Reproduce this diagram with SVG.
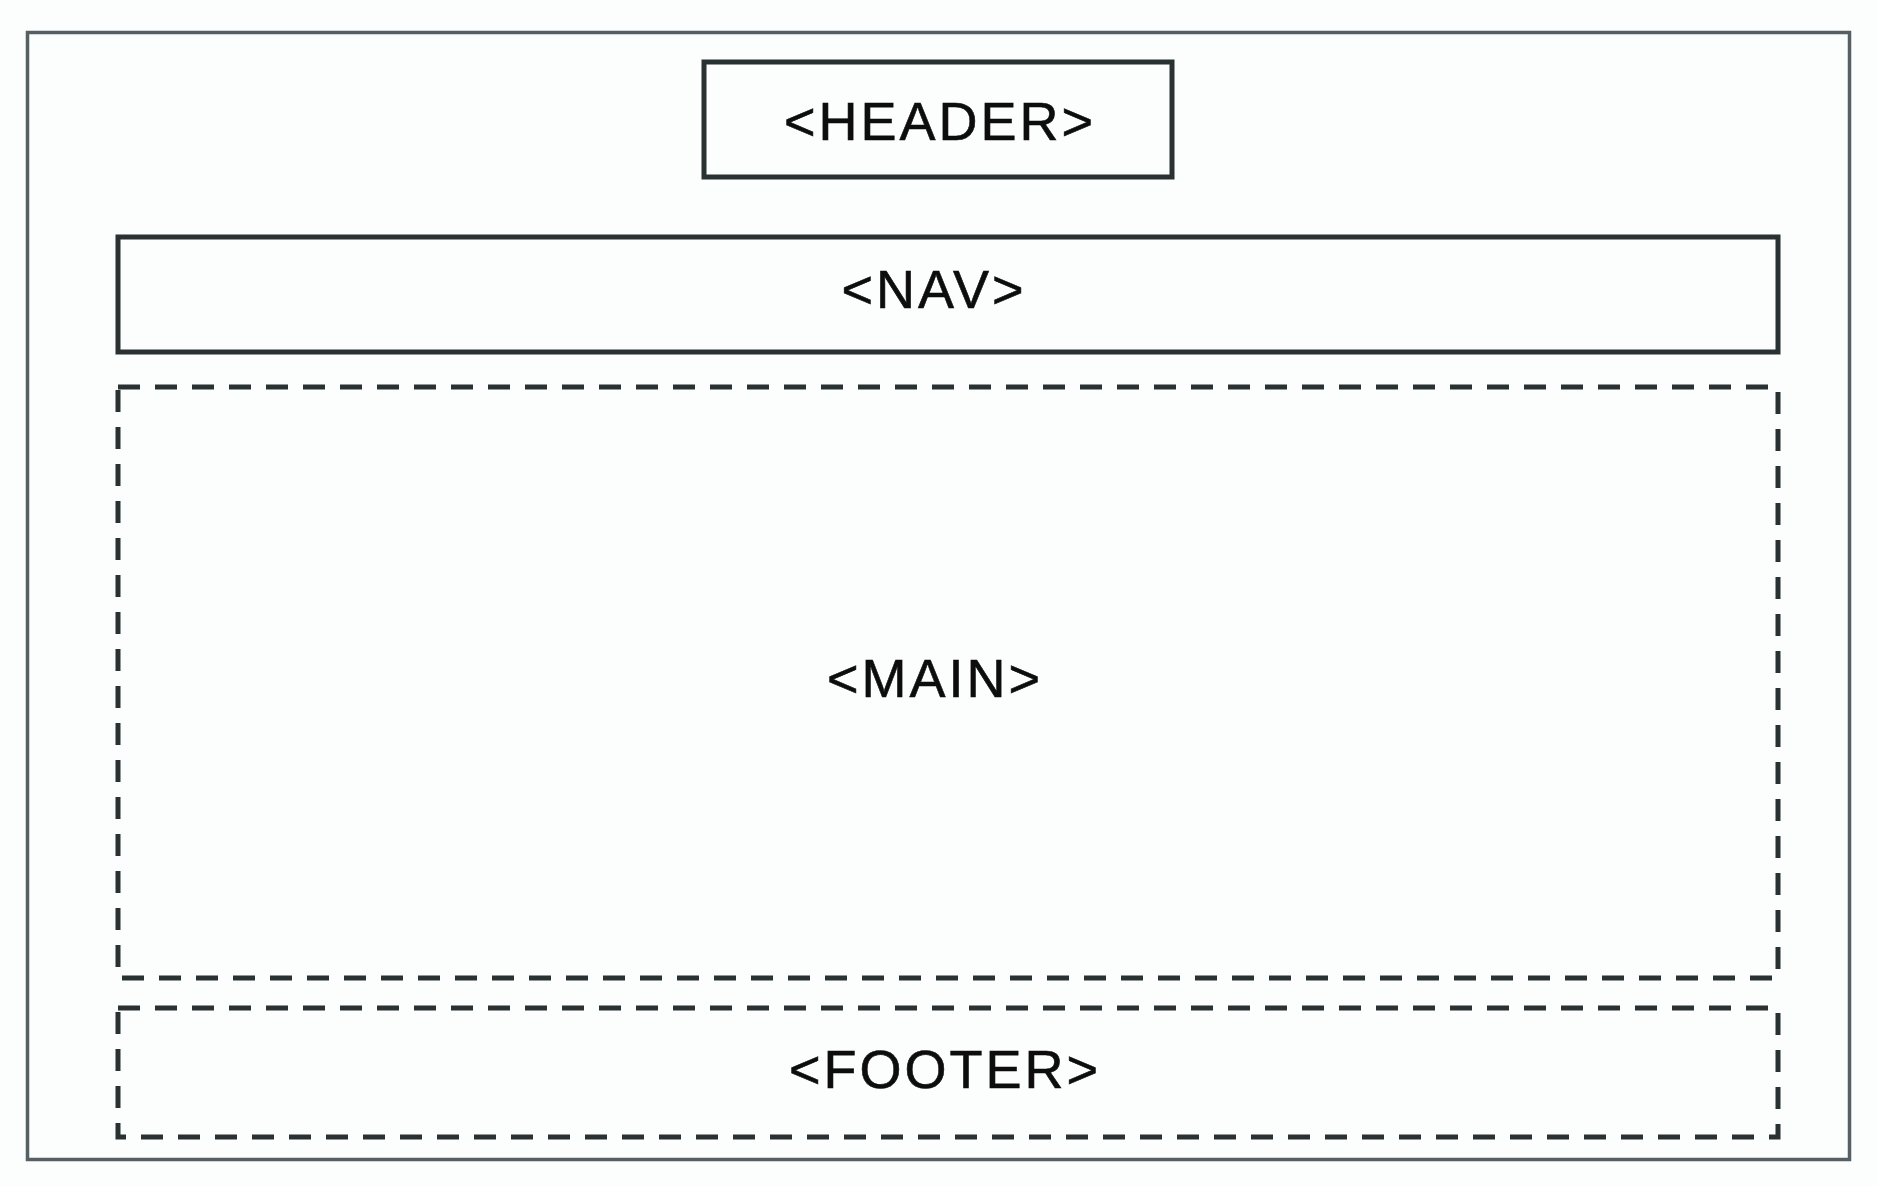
<svg xmlns="http://www.w3.org/2000/svg" width="1878" height="1186" viewBox="0 0 1878 1186">
<style>
.bg{fill:#fcfdfd}
.outer{fill:none;stroke:#566064;stroke-width:3.5}
.solid{fill:none;stroke:#2a3133;stroke-width:5}
.dashed{fill:none;stroke:#2a3133;stroke-width:5;stroke-dasharray:22 15}
.lbl{font-family:"Liberation Sans",Arial,sans-serif;font-size:54px;fill:#0d0d0d;stroke:#0d0d0d;stroke-width:0.6;text-anchor:middle;letter-spacing:3px}
</style>
<rect class="bg" x="0" y="0" width="1878" height="1186"/>
<g id="page"><rect class="outer" x="27.5" y="32.5" width="1822" height="1127"/></g>
<g id="header"><rect class="solid" x="704" y="62" width="468" height="115"/><text class="lbl" x="940" y="140">&lt;HEADER&gt;</text></g>
<g id="nav"><rect class="solid" x="118" y="237" width="1660" height="115"/><text class="lbl" x="934" y="308">&lt;NAV&gt;</text></g>
<g id="main"><rect class="dashed" x="118" y="387" width="1660" height="591"/><text class="lbl" x="935" y="697">&lt;MAIN&gt;</text></g>
<g id="footer"><rect class="dashed" x="118" y="1008" width="1660" height="129"/><text class="lbl" x="945" y="1088">&lt;FOOTER&gt;</text></g>
<g id="connectors"></g>
</svg>
